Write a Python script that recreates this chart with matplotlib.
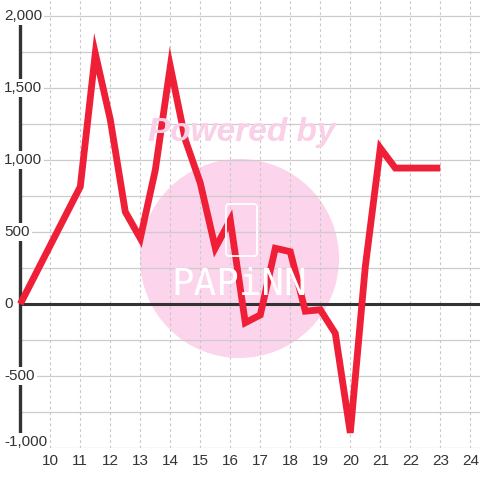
import matplotlib
matplotlib.use("Agg")
import matplotlib.pyplot as plt
import matplotlib.transforms as mtransforms
from matplotlib.patches import Ellipse, FancyBboxPatch

x_values = [9, 11, 11.5, 12, 12.5, 13, 13.5, 14, 14.5, 15, 15.5, 16, 16.5, 17,
            17.5, 18, 18.5, 19, 19.5, 20, 20.5, 21, 21.5, 22, 22.5, 23]
y_values = [0, 815, 1740, 1280, 640, 456, 930, 1650, 1140, 840, 389, 583, -130, -76,
            387, 363, -50, -40, -204, -895, 259, 1083, 944, 944, 944, 944]
x_ticks = list(range(10, 25))
y_label_ticks = [-1000, -500, 0, 500, 1000, 1500, 2000]
y_grid_ticks = [-1000, -750, -500, -250, 0, 250, 500, 750, 1000, 1250, 1500, 1750, 2000]

plt.rcParams['font.family'] = ['Liberation Sans', 'DejaVu Sans']

fig = plt.figure(figsize=(4.8, 4.8), dpi=100)
W = H = 480.0
ax = fig.add_axes([20.3 / W, 32 / H, 1 - 20.3 / W, 1 - 32 / H])
ax.set_xlim(9, 9 + (480 - 20.3) / 30.0)
ax.set_ylim(-1000, -1000 + 448 / 0.144)

for s in ['top', 'right', 'bottom']:
    ax.spines[s].set_visible(False)
ax.spines['left'].set_bounds(-1000, 2000)
ax.spines['left'].set_linewidth(2.4)
ax.spines['left'].set_color('#333333')
ax.spines['left'].set_zorder(3)

# gridlines
for v in y_grid_ticks:
    ax.axhline(v, color='#cccccc', lw=0.9, zorder=1)
for v in x_ticks:
    ax.axvline(v, color='#c8c8c8', lw=0.8, ls=(0, (2.5, 2.5)), ymin=0, ymax=1, zorder=1)
ax.axhline(0, color='#333333', lw=2.2, zorder=2)

# watermark
ax.add_patch(Ellipse((0, 0), 199, 199, transform=mtransforms.Affine2D().translate(239.5, 480 - 258.5),
                     facecolor='#fcd4eb', edgecolor='none', zorder=0.5))
fig.text(242 / W, 1 - 133 / H, 'Powered by', color='#fad0e8', fontsize=24,
         fontweight='bold', fontstyle='italic', ha='center', va='center', zorder=0.6)
phone = FancyBboxPatch((226, 480 - 256), 31, 52, boxstyle='round,pad=0,rounding_size=3',
                       transform=mtransforms.IdentityTransform(), facecolor='none',
                       edgecolor='white', lw=1.3, zorder=0.7)
fig.patches.append(phone)
fig.text(239 / W, 1 - 285 / H, 'PAPiNN', color='white', fontsize=27,
         family='DejaVu Sans Mono', fontweight='light', ha='center', va='center', zorder=0.7)

ax.plot(x_values, y_values, color='#ee1f37', lw=4.9, solid_joinstyle='miter',
        solid_capstyle='butt', zorder=4, clip_on=False)

# ticks and labels
ax.set_xticks(x_ticks)
ax.set_xticklabels([str(t) for t in x_ticks])
ax.tick_params(axis='x', length=0, pad=4, labelsize=11, labelcolor='#333333')
ax.set_yticks([])

blend = mtransforms.blended_transform_factory(fig.transFigure, ax.transData)
for v in y_label_ticks:
    yv = v + 40 if v == -1000 else v
    ax.text(4 / W, yv, f'{v:,}', transform=blend, ha='left', va='center', fontsize=11,
            color='#333333', zorder=5,
            bbox=dict(boxstyle='square,pad=0.15', facecolor='white', edgecolor='none'))

fig.savefig('out.png', dpi=100, facecolor='white')
